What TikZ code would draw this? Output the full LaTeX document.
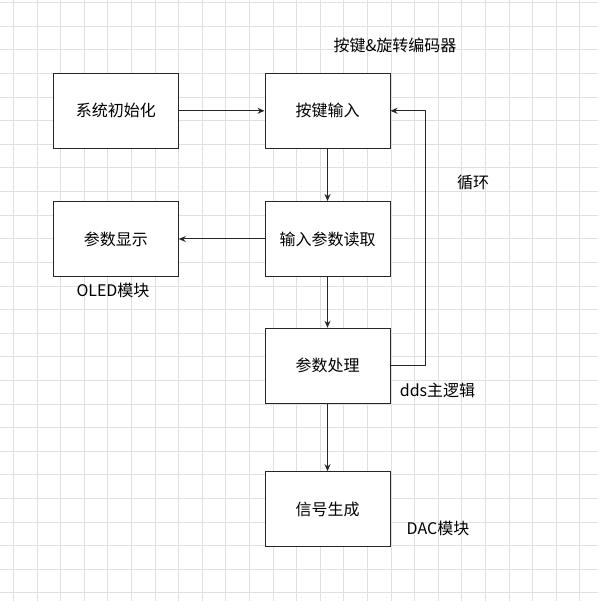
\documentclass[tikz,border=0pt]{standalone}
\usepackage{fontspec}
\newfontfamily\cjk{Noto Sans CJK SC}
\usetikzlibrary{arrows.meta}
\definecolor{gridline}{rgb}{0.88,0.88,0.88}
\definecolor{edge}{rgb}{0.15,0.15,0.15}
\tikzset{block/.style={draw=edge, line width=1pt, fill=white, minimum width=125pt, minimum height=75pt, inner sep=0pt, font=\cjk\fontsize{16}{19}\selectfont},
	tag/.style={font=\cjk\fontsize{16}{19}\selectfont, inner sep=0pt},
	flow/.style={draw=edge, line width=1pt, -{Stealth[length=7pt,width=6pt]}}}
\begin{document}
\begin{tikzpicture}[x=1pt, y=-1pt]
	\useasboundingbox (0,0) rectangle (598,601);
	\fill[white] (0,0) rectangle (598,601);
	
	% grid
	\foreach \k in {0,...,24}
		\draw[gridline, line width=0.8pt] (13.3+23.6*\k,0) -- (13.3+23.6*\k,601);
	\foreach \k in {0,...,25}
		\draw[gridline, line width=0.8pt] (0,2.7+23.6*\k) -- (598,2.7+23.6*\k);
	
	% left column
	\node[block] (init) at (115.8,110.8) {系统初始化};
	\node[block] (show) at (115.8,239) {参数显示};
	
	% main column
	\node[block] (keys) at (327.5,110.8) {按键输入};
	\node[block] (read) at (327.5,239) {输入参数读取};
	\node[block] (proc) at (327.5,365.8) {参数处理};
	\node[block] (wave) at (327.5,509.2) {信号生成};
	
	% labels
	\node[tag] (keystag) at (395,45) {按键\&旋转编码器};
	\node[tag] (looptag) at (473,182) {循环};
	\node[tag] (showtag) at (113,290.5) {OLED模块};
	\node[tag] (proctag) at (437.5,390) {dds主逻辑};
	\node[tag] (wavetag) at (438,528) {DAC模块};
	
	% connectors
	\coordinate (turn) at (425,365.8);
	\draw[flow] (init) -- (keys);
	\draw[flow] (keys) -- (read);
	\draw[flow] (read) -- (show);
	\draw[flow] (read) -- (proc);
	\draw[flow] (proc) -- (wave);
	\draw[flow] (proc.east) -- (turn) |- (keys.east);
\end{tikzpicture}
\end{document}
